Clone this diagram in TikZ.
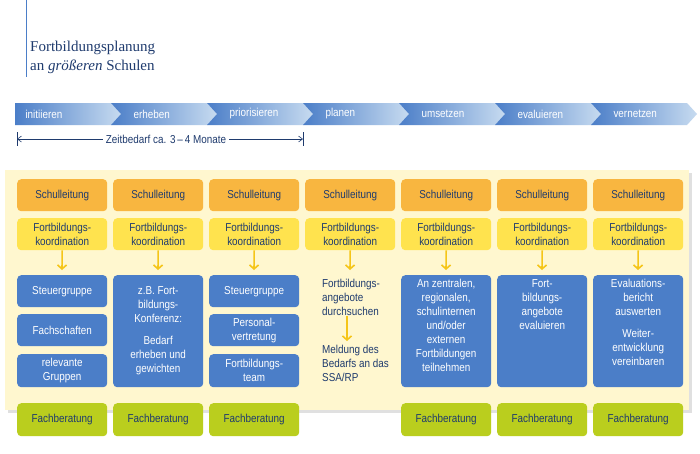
\documentclass[tikz,border=0pt]{standalone}
\usepackage{fontspec}
\setmainfont{Liberation Sans}[FakeStretch=0.86]
\newfontfamily\titlefont{Liberation Serif}
\usetikzlibrary{arrows.meta}
\begin{document}
\begin{tikzpicture}[x=1pt,y=-1pt,
  fnt/.style={font=\fontsize{11.5}{14}\selectfont},
  box/.style={rounded corners=4pt,minimum width=90pt,anchor=north west,align=center,inner sep=1pt,fnt},
  sl/.style={box,fill=sorange,minimum height=32pt,text=dtext},
  fk/.style={box,fill=syellow,minimum height=32pt,text=dtext},
  bl/.style={box,fill=sblue,text=white},
  fb/.style={box,fill=sgreen,minimum height=33pt,text=dtext},
  btxt/.style={text=white,fnt,align=center,anchor=north,inner sep=0pt,yshift=-4pt},
  arr/.style={draw=sarrow,line width=1.6pt,-{Straight Barb[length=4pt,width=9pt]}},
  chev/.style={text=white,fnt,anchor=west}]
\definecolor{sorange}{HTML}{F8B640}
\definecolor{syellow}{HTML}{FFE34E}
\definecolor{sblue}{HTML}{4B7EC8}
\definecolor{sgreen}{HTML}{BACE1E}
\definecolor{sbg}{HTML}{FFF7CF}
\definecolor{dtext}{HTML}{1F3B6E}
\definecolor{sarrow}{HTML}{F5C518}
\definecolor{cdark}{HTML}{4B7EC8}
\definecolor{clight}{HTML}{C7DBF0}
\useasboundingbox (0,0) rectangle (700,453);
\fill[white] (0,0) rectangle (700,453);
\draw[cdark,line width=0.6pt] (26,0) -- (26,77);
\node[anchor=north west,align=left,text=dtext,font=\titlefont\fontsize{15}{19}\selectfont,inner sep=0] (title) at (30,41) {Fortbildungsplanung\\an \textit{größeren} Schulen};
% banner
\foreach \i/\t in {0/initiieren,1/erheben,2/priorisieren,3/planen,4/umsetzen,5/evaluieren,6/vernetzen}{
  \pgfmathsetmacro{\xa}{15+96*\i}
  \pgfmathsetmacro{\xb}{\xa+96}
  \pgfmathsetmacro{\xc}{\xb+10}
  \pgfmathsetmacro{\xd}{\xa+10}
  \pgfmathsetmacro{\xt}{\xa+7+12*(\i>0)}
  \ifnum\i=0
    \shade[left color=cdark,right color=clight] (\xa,103) -- (\xb,103) -- (\xc,114) -- (\xb,125) -- (\xa,125) -- cycle;
  \else
    \shade[left color=cdark,right color=clight] (\xa,103) -- (\xb,103) -- (\xc,114) -- (\xb,125) -- (\xa,125) -- (\xd,114) -- cycle;
  \fi
  \node[chev] (ch\i) at (\xt,114) {\t};
}
\coordinate (tl) at (17,139); \coordinate (tr) at (303,139);
\draw[dtext,line width=0.5pt] (17,132) -- (17,146) (303,132) -- (303,146);
\node[text=dtext,fnt,fill=white,inner sep=3pt] (zeit) at (166,139) {Zeitbedarf ca. 3\,–\,4 Monate};
\draw[dtext,line width=0.6pt,-{Straight Barb[length=4pt,width=6pt]}] (zeit.west) -- (tl);
\draw[dtext,line width=0.6pt,-{Straight Barb[length=4pt,width=6pt]}] (zeit.east) -- (tr);
% background
\fill[black!12] (8,173) rectangle (692,413);
\fill[sbg] (5,170) rectangle (689,410);
\foreach \i in {0,...,6}{
  \pgfmathsetmacro{\x}{17+96*\i}
  \pgfmathsetmacro{\xm}{\x+45}
  \node[sl] (s\i) at (\x,179) {Schulleitung};
  \node[fk] (k\i) at (\x,218) {Fortbildungs-\\koordination};
  \coordinate (a\i) at (\xm,270);
  \draw[arr] (k\i.south) -- (a\i);
}
\node[bl,minimum height=32pt] (b0a) at (17,275) {Steuergruppe};
\node[bl,minimum height=32pt] (b0b) at (17,314) {Fachschaften};
\node[bl,minimum height=33pt] (b0c) at (17,354) {relevante\\Gruppen};
\node[bl,minimum height=112pt] (b1) at (113,275) {z.B. Fort-\\bildungs-\\Konferenz:\\[8pt]Bedarf\\erheben und\\gewichten};
\node[bl,minimum height=32pt] (b2a) at (209,275) {Steuergruppe};
\node[bl,minimum height=32pt] (b2b) at (209,314) {Personal-\\vertretung};
\node[bl,minimum height=33pt] (b2c) at (209,354) {Fortbildungs-\\team};
\node[text=dtext,fnt,align=left,anchor=north west,inner sep=0pt] (p1) at (322,279) {Fortbildungs-\\angebote\\durchsuchen};
\node[text=dtext,fnt,align=left,anchor=north west,inner sep=0pt] (p2) at (322,345) {Meldung des\\Bedarfs an das\\SSA/RP};
\coordinate (pb) at (347,341);
\draw[arr] (p1.south -| pb) -- (pb);
\node[bl,minimum height=112pt] (b4) at (401,275) {};
\node[btxt] (b4t) at (b4.north) {An zentralen,\\regionalen,\\schulinternen\\und/oder\\externen\\Fortbildungen\\teilnehmen};
\node[bl,minimum height=112pt] (b5) at (497,275) {};
\node[btxt] (b5t) at (b5.north) {Fort-\\bildungs-\\angebote\\evaluieren};
\node[bl,minimum height=112pt] (b6) at (593,275) {};
\node[btxt] (b6t) at (b6.north) {Evaluations-\\bericht\\auswerten\\[8pt]Weiter-\\entwicklung\\vereinbaren};
\foreach \i in {0,1,2,4,5,6}{
  \pgfmathsetmacro{\x}{17+96*\i}
  \node[fb] (f\i) at (\x,403) {Fachberatung};
}
\end{tikzpicture}
\end{document}
